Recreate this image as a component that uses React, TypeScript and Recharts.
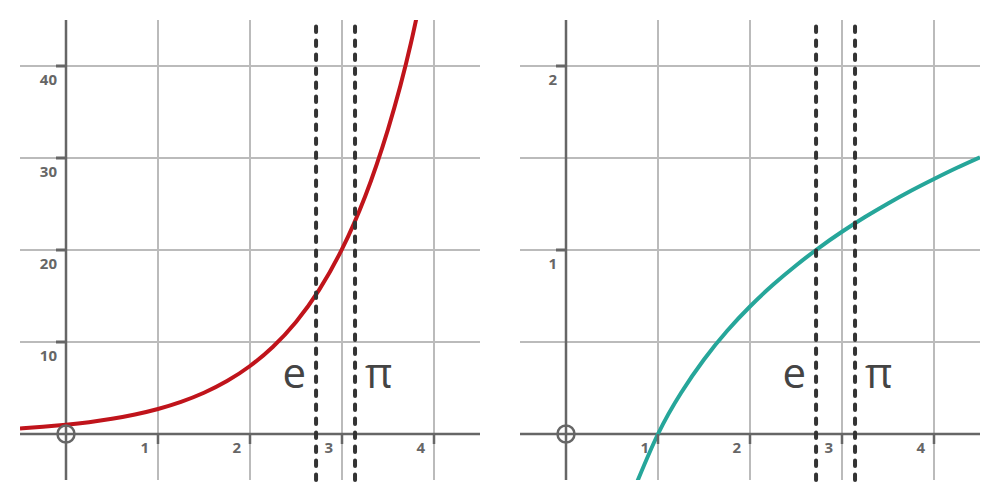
import { LineChart, Line, XAxis, YAxis, ReferenceLine, ReferenceDot } from 'recharts';

// constants marked by the dashed lines
const E = 2.718;
const PI = 3.1416;

// left panel: exponential curve
const expX = [-0.5, -0.25, 0, 0.25, 0.5, 0.75, 1, 1.25, 1.5, 1.75, 2, 2.25, 2.5, 2.75, 3, 3.25, 3.5, 3.75, 4];
const expY = [0.61, 0.78, 1, 1.28, 1.65, 2.12, 2.72, 3.49, 4.48, 5.75, 7.39, 9.49, 12.18, 15.64, 20.09, 25.79, 33.12, 42.52, 54.6];

// right panel: logarithm curve
const lnX = [0.75, 1, 1.25, 1.5, 1.75, 2, 2.25, 2.5, 2.75, 3, 3.25, 3.5, 3.75, 4, 4.25, 4.5];
const lnY = [-0.288, 0, 0.223, 0.405, 0.56, 0.693, 0.811, 0.916, 1.012, 1.099, 1.179, 1.253, 1.322, 1.386, 1.447, 1.504];

const xTicks = [1, 2, 3, 4];
const expGrid = [10, 20, 30, 40];
const expTicks = [10, 20, 30, 40];
const lnGrid = [0.5, 1, 1.5, 2];
const lnTicks = [1, 2];

const AXIS = '#666';
const GRID = '#bbb';
const LABEL_FONT = '"Open Sans", "Noto Sans", sans-serif';

interface PanelProps {
  xs: number[];
  ys: number[];
  color: string;
  yDomain: [number, number];
  yGrid: number[];
  yTicks: number[];
  labelY: number;
}

const tickLabel = (x: number, y: number, text: string | number) => (
  <text x={x} y={y} textAnchor="end" fontFamily={LABEL_FONT} fontWeight={700} fontSize={15} fill={AXIS}>
    {text}
  </text>
);

function Panel(props: PanelProps) {
  const data = props.xs.map((x, i) => ({ x, y: props.ys[i] }));
  return (
    <LineChart width={500} height={500} data={data} margin={{ top: 20, right: 20, bottom: 20, left: 20 }}>
      <XAxis hide type="number" dataKey="x" domain={[-0.5, 4.5]} allowDataOverflow />
      <YAxis hide type="number" domain={props.yDomain} allowDataOverflow />
      {xTicks.map((v) => (
        <ReferenceLine key={'gx' + v} x={v} stroke={GRID} strokeWidth={2} />
      ))}
      {props.yGrid.map((v) => (
        <ReferenceLine key={'gy' + v} y={v} stroke={GRID} strokeWidth={2} />
      ))}
      <ReferenceLine x={0} stroke={AXIS} strokeWidth={2.5} />
      <ReferenceLine y={0} stroke={AXIS} strokeWidth={2.5} />
      {xTicks.map((v) => (
        <ReferenceDot
          key={'tx' + v}
          x={v}
          y={0}
          shape={(p: any) => (
            <g>
              <line x1={p.cx} y1={p.cy} x2={p.cx} y2={p.cy + 10} stroke={AXIS} strokeWidth={2.5} />
              {tickLabel(p.cx - 9, p.cy + 19, v)}
            </g>
          )}
        />
      ))}
      {props.yTicks.map((v) => (
        <ReferenceDot
          key={'ty' + v}
          x={0}
          y={v}
          shape={(p: any) => (
            <g>
              <line x1={p.cx - 10} y1={p.cy} x2={p.cx} y2={p.cy} stroke={AXIS} strokeWidth={3} />
              {tickLabel(p.cx - 9, p.cy + 19, v)}
            </g>
          )}
        />
      ))}
      <ReferenceDot x={0} y={0} r={8.5} fill="none" stroke={AXIS} strokeWidth={2.5} />
      <Line
        type="natural"
        dataKey="y"
        stroke={props.color}
        strokeWidth={4}
        dot={false}
        activeDot={false}
        isAnimationActive={false}
      />
      <ReferenceLine x={E} stroke="#333" strokeWidth={4} strokeDasharray="5.5 8.5" strokeLinecap="round" />
      <ReferenceLine x={PI} stroke="#333" strokeWidth={4} strokeDasharray="5.5 8.5" strokeLinecap="round" />
      <ReferenceDot
        x={E}
        y={props.labelY}
        shape={(p: any) => (
          <text x={p.cx - 10} y={p.cy} textAnchor="end" fontFamily={LABEL_FONT} fontSize={42} fill="#444">
            e
          </text>
        )}
      />
      <ReferenceDot
        x={PI}
        y={props.labelY}
        shape={(p: any) => (
          <text x={p.cx + 10} y={p.cy} textAnchor="start" fontFamily={LABEL_FONT} fontSize={42} fill="#444">
            π
          </text>
        )}
      />
    </LineChart>
  );
}

export default function App() {
  return (
    <div style={{ position: 'absolute', left: 0, top: 0, width: 1000, height: 500, display: 'flex', background: '#fff' }}>
      <Panel xs={expX} ys={expY} color="#c0141b" yDomain={[-5, 45]} yGrid={expGrid} yTicks={expTicks} labelY={5} />
      <Panel xs={lnX} ys={lnY} color="#26a69a" yDomain={[-0.25, 2.25]} yGrid={lnGrid} yTicks={lnTicks} labelY={0.25} />
    </div>
  );
}
